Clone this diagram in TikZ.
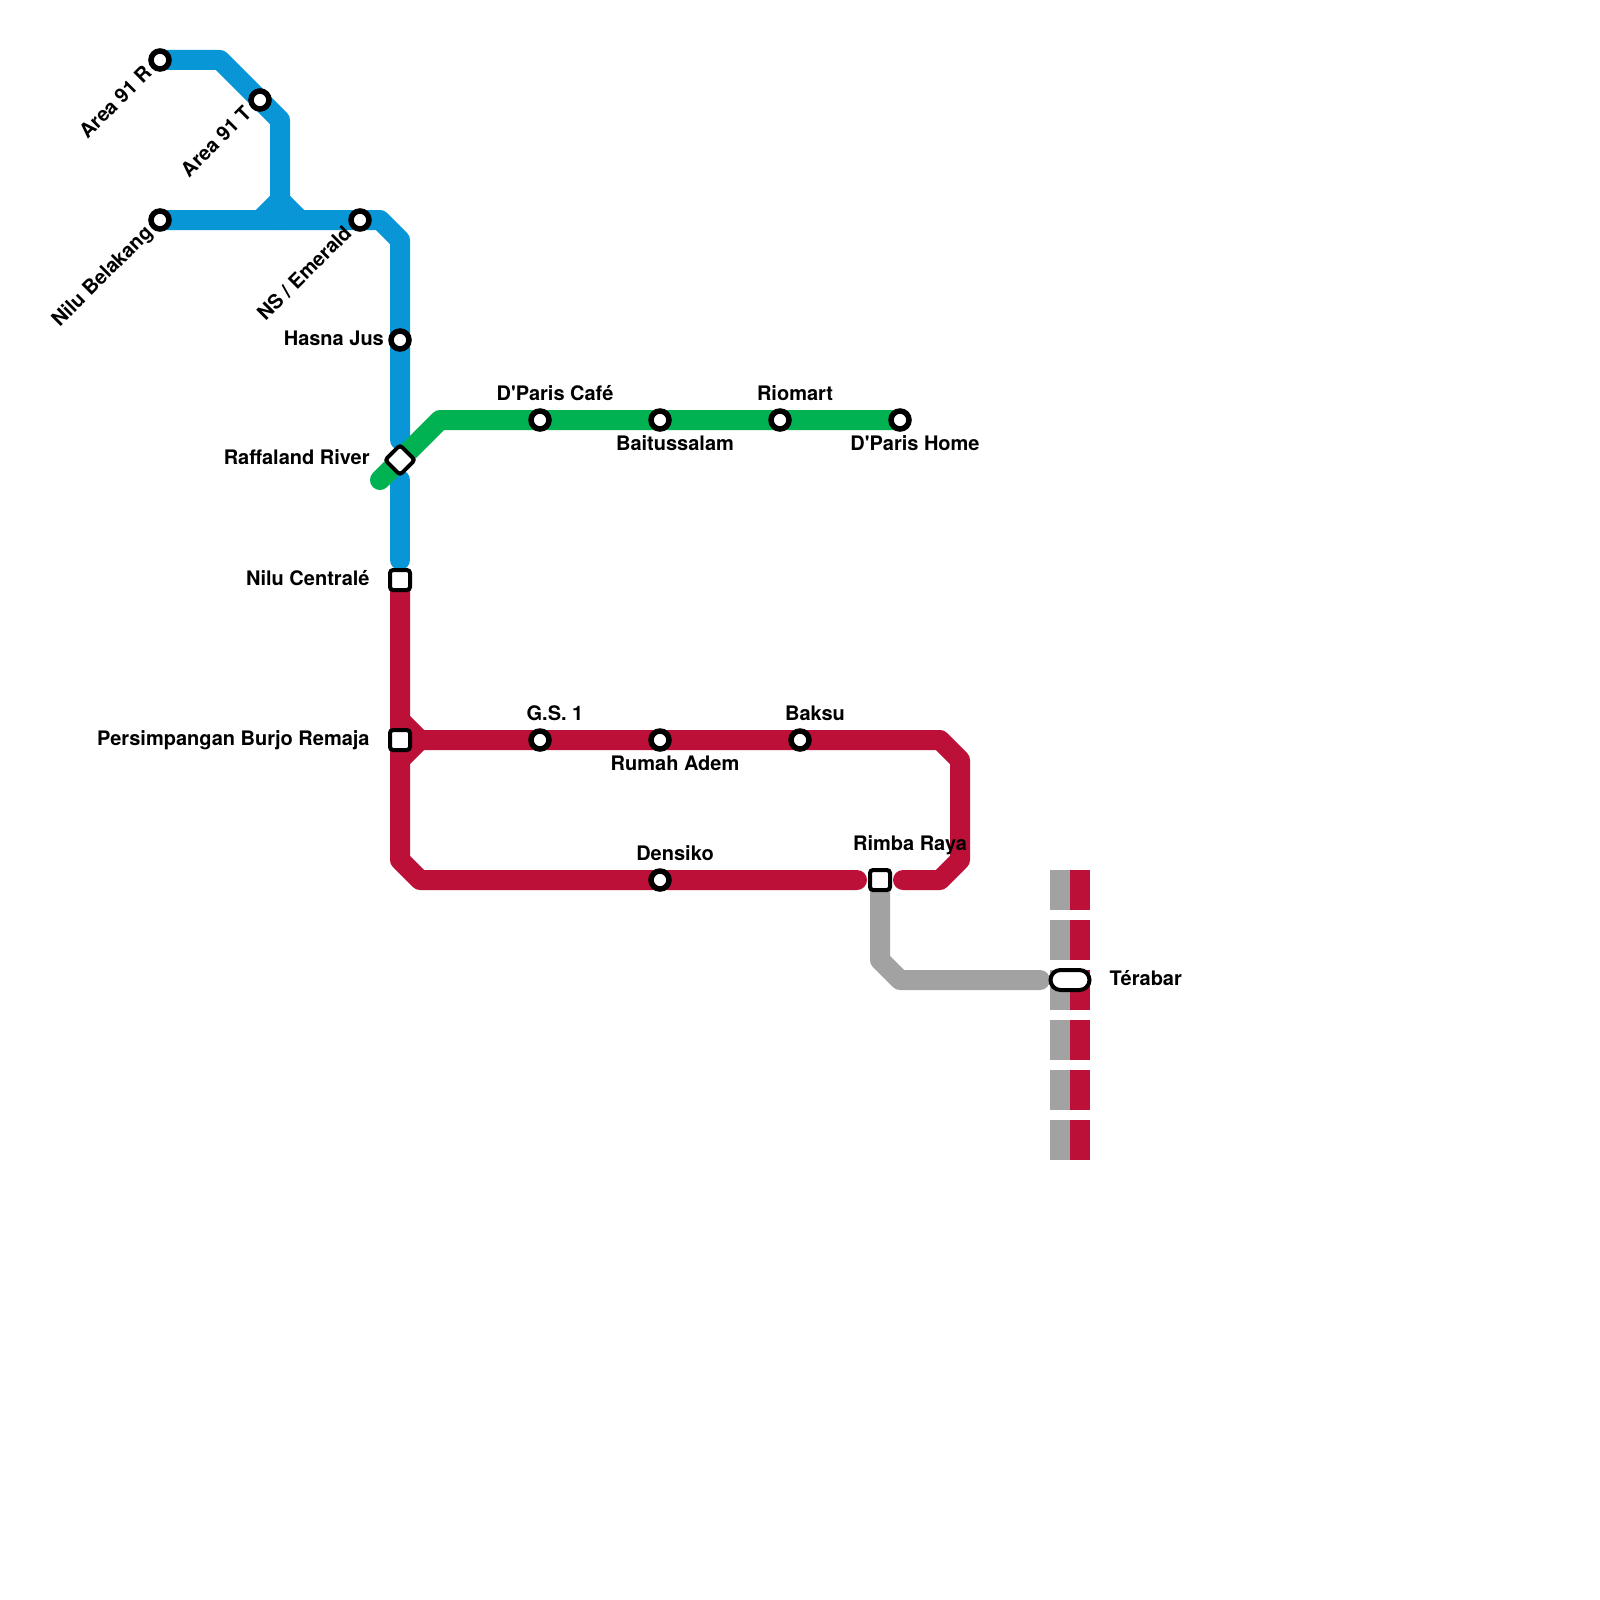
\documentclass[tikz,border=0pt]{standalone}
\usepackage{fontspec}
\setmainfont{TeX Gyre Heros}[Ligatures=TeXOff]
\usepackage{xcolor}
\usetikzlibrary{positioning, backgrounds}
\definecolor{lineBlue}{HTML}{0896D7}
\definecolor{lineGreen}{HTML}{00B251}
\definecolor{lineRed}{HTML}{BD1038}
\definecolor{lineGray}{HTML}{A2A2A2}

\begin{document}
\begin{tikzpicture}[
    x=.5pt, y=-.5pt,
    node distance=3.5pt,
    halt/.style={draw, circle, fill=white, line width=2.75pt, inner sep=0pt, minimum size=9pt},
    hub/.style={draw, rectangle, rounded corners=1.5pt, fill=white, line width=2pt, inner sep=0pt, minimum size=10pt},
    pill/.style={hub, minimum width=19.5pt, rounded corners=5pt},
    lbl/.style={font=\bfseries\fontsize{10}{12}\selectfont, text=black, inner sep=0pt},
    diag/.style={lbl, rotate=45, anchor=east},
    rail/.style={line width=10pt, line join=round, line cap=round},
    stub/.style={line width=10pt, line join=round},
    key/.style={line width=10pt, dash pattern=on 20pt off 5pt}]
    \useasboundingbox (0,0) rectangle (1600,1600);
    \node[halt] (area91r) at (160,60) {};
    \node[halt] (area91t) at (260,100) {};
    \node[halt] (nilubel) at (160,220) {};
    \node[halt] (emerald) at (360,220) {};
    \node[halt] (hasna) at (400,340) {};
    \node[hub, rotate=45, minimum size=10.5pt] (raffa) at (400,460) {};
    \node[hub] (centrale) at (400,580) {};
    \node[hub] (burjo) at (400,740) {};
    \node[halt] (cafe) at (540,420) {};
    \node[halt] (baitus) at (660,420) {};
    \node[halt] (riomart) at (780,420) {};
    \node[halt] (dphome) at (900,420) {};
    \node[halt] (gs) at (540,740) {};
    \node[halt] (adem) at (660,740) {};
    \node[halt] (baksu) at (800,740) {};
    \node[halt] (densiko) at (660,880) {};
    \node[hub] (rimba) at (880,880) {};
    \node[pill] (terabar) at (1070,980) {};

    \node[diag] at ([shift={(-12,9)}]area91r.center) {Area 91 R};
    \node[diag] at ([shift={(-12,9)}]area91t.center) {Area 91 T};
    \node[diag] at ([shift={(-10,10)}]nilubel.center) {Nilu Belakang};
    \node[diag] at ([shift={(-12,9)}]emerald.center) {NS / Emerald};
    \node[lbl, left=2pt of hasna, yshift=1pt] {Hasna Jus};
    \node[lbl, left=15pt of raffa.center, yshift=1.3pt] {Raffaland River};
    \node[lbl, left=15pt of centrale.center, yshift=1pt] {Nilu Centralé};
    \node[lbl, left=15pt of burjo.center] {Persimpangan Burjo Remaja};
    \node[lbl, above=of cafe, xshift=7.5pt] {D'Paris Café};
    \node[lbl, below=1.5pt of baitus, xshift=7.5pt] {Baitussalam};
    \node[lbl, above=of riomart, xshift=7.5pt] {Riomart};
    \node[lbl, below=1.5pt of dphome, xshift=7.5pt] {D'Paris Home};
    \node[lbl, above=of gs, xshift=7.5pt] {G.S. 1};
    \node[lbl, below=2pt of adem, xshift=7.5pt] {Rumah Adem};
    \node[lbl, above=of baksu, xshift=7.5pt] {Baksu};
    \node[lbl, above=of densiko, xshift=7.5pt] {Densiko};
    \node[lbl, above=6.3pt of rimba, xshift=15pt] {Rimba Raya};
    \node[lbl, right=8.8pt of terabar, yshift=1pt] {Térabar};

    \coordinate (keytop) at (1060,870);
    \coordinate (keybot) at (1060,1160);
    \begin{scope}[on background layer]
      \draw[rail, lineBlue] (area91r.center) -- (220,60) -- (280,120) -- (280,220);
      \draw[stub, lineBlue] (260,220) -- (280,200) -- (300,220);
      \draw[rail, lineBlue] (nilubel.center) -- (emerald.center) -- (380,220) -- (400,240) -- (hasna.center) -- (400,440);
      \draw[rail, lineBlue] (400,480) -- (400,560);
      \draw[rail, lineGreen] (380,480) -- (440,420) -- (dphome.center);
      \draw[rail, lineRed] (centrale.center) -- (400,860) -- (420,880) -- (857,880);
      \draw[stub, lineRed] (400,720) -- (420,740) -- (400,760);
      \draw[rail, lineRed] (burjo.center) -- (940,740) -- (960,760) -- (960,860) -- (940,880) -- (903,880);
      \draw[rail, lineGray] (rimba.center) -- (880,960) -- (900,980) -- (1040,980);
      \draw[key, lineGray] (keytop) -- (keybot);
      \draw[key, lineRed] ([xshift=10pt]keytop) -- ([xshift=10pt]keybot);
    \end{scope}
  \end{tikzpicture}
\end{document}
